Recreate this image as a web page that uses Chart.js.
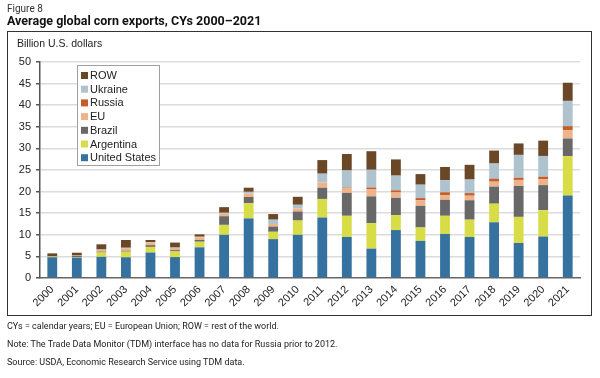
<!DOCTYPE html>
<html>
<head>
<meta charset="utf-8">
<script src="https://cdn.jsdelivr.net/npm/chart.js@4.4.1/dist/chart.umd.min.js"></script>
<style>
  html, body { margin: 0; padding: 0; background: #fff; }
  body { width: 600px; height: 378px; position: relative; overflow: hidden; font-family: "Liberation Sans", Arial, sans-serif; color: #222; }
  #wrap { position: absolute; left: 0; top: 0; width: 600px; height: 378px; }
  .t { position: absolute; white-space: nowrap; }
  #fig { left: 7px; top: 3px; font-family: Roboto, sans-serif; font-size: 10px; color: #333; }
  #title { left: 7px; top: 13px; font-family: Roboto, sans-serif; font-size: 12.5px; font-weight: bold; color: #111; }
  #box { position: absolute; left: 7px; top: 31px; width: 583px; height: 283px; border: 1.5px solid #333; pointer-events: none; }
  #unit { left: 17px; top: 37px; font-size: 10.5px; color: #222; }
  .fn { left: 7px; font-family: Roboto, sans-serif; font-size: 9px; color: #222; }
</style>
</head>
<body>
<div id="wrap"><canvas id="c" width="600" height="378"></canvas></div>
<div class="t" id="fig">Figure 8</div>
<div class="t" id="title">Average global corn exports, CYs 2000–2021</div>
<div id="box"></div>
<div class="t" id="unit">Billion U.S. dollars</div>
<div class="t fn" style="top:321px">CYs = calendar years; EU = European Union; ROW = rest of the world.</div>
<div class="t fn" style="top:339px">Note: The Trade Data Monitor (TDM) interface has no data for Russia prior to 2012.</div>
<div class="t fn" style="top:357px">Source: USDA, Economic Research Service using TDM data.</div>
<script>
const years = ["2000","2001","2002","2003","2004","2005","2006","2007","2008","2009","2010","2011","2012","2013","2014","2015","2016","2017","2018","2019","2020","2021"];
const unitedStates = [4.8, 4.7, 4.9, 4.8, 5.9, 4.85, 7.1, 10.0, 13.8, 9.0, 10.0, 14.0, 9.5, 6.8, 11.1, 8.6, 10.2, 9.5, 12.9, 8.1, 9.6, 19.1];
const argentina = [0.1, 0.1, 1.0, 1.3, 1.3, 1.3, 1.3, 2.3, 3.5, 1.7, 3.3, 4.3, 4.9, 5.9, 3.45, 3.1, 4.2, 4.0, 4.3, 6.05, 6.1, 9.1];
const brazil = [0.0, 0.3, 0.2, 0.2, 0.4, 0.3, 0.4, 2.0, 1.45, 1.2, 2.1, 2.6, 5.3, 6.2, 4.0, 5.0, 3.7, 4.5, 3.95, 7.15, 5.8, 4.1];
const eu = [0.1, 0.1, 0.4, 0.6, 0.6, 0.5, 0.6, 0.6, 0.8, 0.6, 0.7, 1.2, 1.15, 1.6, 1.25, 1.3, 1.1, 1.05, 1.15, 1.4, 1.35, 1.9];
const russia = [0, 0, 0, 0, 0, 0, 0, 0, 0, 0, 0, 0, 0.1, 0.45, 0.5, 0.5, 0.65, 0.6, 0.7, 0.5, 0.6, 0.95];
const ukraine = [0, 0, 0.1, 0.1, 0.1, 0.1, 0.15, 0.2, 0.4, 1.0, 0.85, 2.05, 3.95, 4.1, 3.4, 3.1, 2.8, 3.15, 3.5, 5.3, 4.8, 5.85];
const row = [0.7, 0.65, 1.2, 1.8, 0.5, 1.15, 0.55, 1.3, 0.95, 1.3, 1.85, 3.15, 3.8, 4.3, 3.75, 2.45, 3.05, 3.4, 3.0, 2.65, 3.55, 4.2];
const yTicks = [0, 5, 10, 15, 20, 25, 30, 35, 40, 45, 50];

const series = [
  { label: "United States", data: unitedStates, color: "#36729f" },
  { label: "Argentina", data: argentina, color: "#d8dc47" },
  { label: "Brazil", data: brazil, color: "#686868" },
  { label: "EU", data: eu, color: "#eeb38b" },
  { label: "Russia", data: russia, color: "#c25f2c" },
  { label: "Ukraine", data: ukraine, color: "#aec3cd" },
  { label: "ROW", data: row, color: "#6a4827" }
];

const FONT = "'Liberation Sans', Arial, sans-serif";

const legendPlugin = {
  id: "boxLegend",
  afterDraw(chart) {
    const ctx = chart.ctx;
    const x0 = 77, y0 = 65, w = 82, h = 100;
    ctx.save();
    ctx.fillStyle = "#fff";
    ctx.fillRect(x0, y0, w, h);
    ctx.strokeStyle = "#a0a0a0";
    ctx.lineWidth = 1;
    ctx.strokeRect(x0 + 0.5, y0 + 0.5, w, h);
    const ds = chart.data.datasets.slice().reverse();
    ctx.font = "11px " + FONT;
    ctx.textBaseline = "middle";
    ds.forEach((d, i) => {
      const cy = 75.5 + i * 13.7;
      ctx.fillStyle = d.backgroundColor;
      ctx.fillRect(81, cy - 3.5, 7, 7);
      ctx.fillStyle = "#222";
      ctx.fillText(d.label, 90, cy + 0.5);
    });
    ctx.restore();
  }
};

new Chart(document.getElementById("c"), {
  type: "bar",
  data: {
    labels: years,
    datasets: series.map(s => ({
      label: s.label,
      data: s.data,
      backgroundColor: s.color,
      borderWidth: 0,
      barPercentage: 0.8,
      categoryPercentage: 0.5
    }))
  },
  options: {
    responsive: false,
    animation: false,
    events: [],
    layout: { padding: { top: 62, left: 0, right: 20, bottom: 60 } },
    plugins: { legend: { display: false }, tooltip: { enabled: false }, title: { display: false } },
    scales: {
      x: {
        stacked: true,
        offset: true,
        grid: { display: false, drawTicks: false },
        border: { display: true, color: "#666", width: 1.5 },
        ticks: { color: "#222", font: { size: 11, family: FONT }, minRotation: 45, maxRotation: 45, padding: 5, autoSkip: false },
        afterFit(scale) { scale.height = 40; }
      },
      y: {
        stacked: true,
        min: 0, max: 50,
        afterBuildTicks(scale) { scale.ticks = yTicks.map(v => ({ value: v })); },
        grid: {
          color: (c) => c.tick && c.tick.value === 0 ? "rgba(0,0,0,0)" : "#dcdcdc",
          lineWidth: 1.5,
          tickColor: "#555",
          tickLength: 4,
          drawTicks: true
        },
        border: { display: true, color: "#555", width: 1.5 },
        ticks: { color: "#222", font: { size: 11, family: FONT }, padding: 5 },
        afterFit(scale) { scale.width = 40; }
      }
    }
  },
  plugins: [legendPlugin]
});
</script>
</body>
</html>
